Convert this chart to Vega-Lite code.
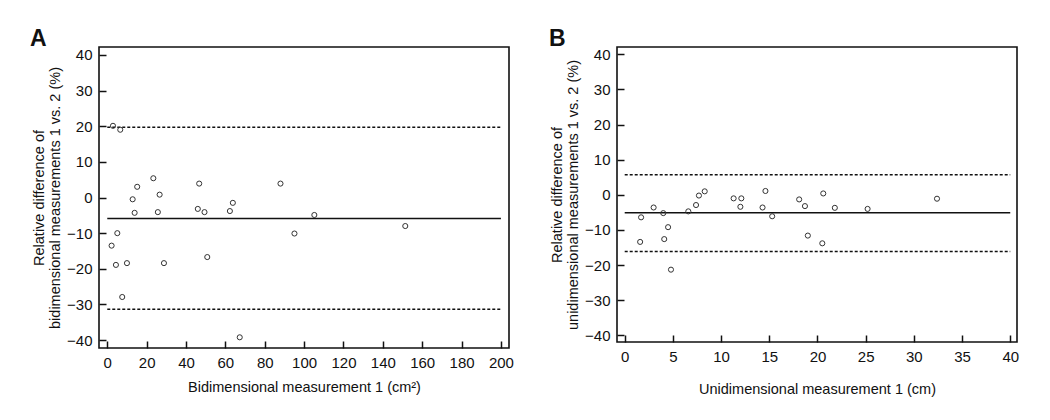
{
  "$schema": "https://vega.github.io/schema/vega-lite/v6.json",
  "background": "white",
  "padding": {"left": 29, "top": 27, "right": 5, "bottom": 5},
  "spacing": 33,
  "datasets": {
    "pa": [
      {"x": 2.9, "y": 20.1}, {"x": 6.6, "y": 19.0}, {"x": 2.2, "y": -13.5}, {"x": 5.1, "y": -10.0},
      {"x": 4.4, "y": -18.9}, {"x": 10.0, "y": -18.4}, {"x": 7.6, "y": -27.9}, {"x": 12.9, "y": -0.5},
      {"x": 13.9, "y": -4.3}, {"x": 15.2, "y": 3.0}, {"x": 23.4, "y": 5.4}, {"x": 26.6, "y": 0.8},
      {"x": 25.7, "y": -4.1}, {"x": 28.8, "y": -18.4}, {"x": 46.7, "y": 3.9}, {"x": 46.0, "y": -3.2},
      {"x": 49.4, "y": -4.1}, {"x": 50.8, "y": -16.7}, {"x": 62.3, "y": -3.8}, {"x": 63.8, "y": -1.5},
      {"x": 67.3, "y": -39.2}, {"x": 88.0, "y": 3.9}, {"x": 95.1, "y": -10.1}, {"x": 105.2, "y": -4.9},
      {"x": 151.4, "y": -8.0}
    ],
    "la": [
      {"x": 0, "x2": 200, "y": 19.7, "kind": "limit"},
      {"x": 0, "x2": 200, "y": -5.9, "kind": "mean"},
      {"x": 0, "x2": 200, "y": -31.3, "kind": "limit"}
    ],
    "pb": [
      {"x": 1.6, "y": -13.4}, {"x": 1.7, "y": -6.4}, {"x": 3.0, "y": -3.6}, {"x": 4.0, "y": -5.2},
      {"x": 4.1, "y": -12.6}, {"x": 4.5, "y": -9.2}, {"x": 4.8, "y": -21.3}, {"x": 6.6, "y": -4.7},
      {"x": 7.4, "y": -2.9}, {"x": 7.7, "y": -0.2}, {"x": 8.3, "y": 1.0}, {"x": 11.3, "y": -1.0},
      {"x": 12.0, "y": -3.4}, {"x": 12.1, "y": -1.0}, {"x": 14.3, "y": -3.6}, {"x": 14.6, "y": 1.1},
      {"x": 15.3, "y": -6.1}, {"x": 18.1, "y": -1.3}, {"x": 18.7, "y": -3.2}, {"x": 19.0, "y": -11.6},
      {"x": 20.5, "y": -13.8}, {"x": 20.6, "y": 0.4}, {"x": 21.8, "y": -3.7}, {"x": 25.2, "y": -4.0},
      {"x": 32.4, "y": -1.1}
    ],
    "lb": [
      {"x": 0, "x2": 40, "y": 5.7, "kind": "limit"},
      {"x": 0, "x2": 40, "y": -5.1, "kind": "mean"},
      {"x": 0, "x2": 40, "y": -16.1, "kind": "limit"}
    ]
  },
  "config": {
    "font": "Liberation Sans",
    "view": {"stroke": "#111", "strokeWidth": 1.6},
    "axis": {
      "grid": false,
      "domain": false,
      "ticks": true,
      "tickSize": -7,
      "tickWidth": 1.5,
      "tickColor": "#111",
      "labelPadding": 14,
      "labelFontSize": 15,
      "labelColor": "#111",
      "labelOverlap": false,
      "labelFlush": false,
      "titleFontSize": 14.5,
      "titleFontWeight": "normal",
      "titleColor": "#111",
      "zindex": 1
    },
    "title": {"fontSize": 23, "fontWeight": "bold", "anchor": "start", "frame": "group", "color": "#111"}
  },
  "hconcat": [
    {
      "width": 410,
      "height": 301,
      "title": {"text": "A", "dx": -69, "offset": -4},
      "encoding": {
        "x": {"field": "x", "type": "quantitative",
          "scale": {"domain": [-4.2, 204.1], "nice": false, "zero": false},
          "axis": {"values": [0,20,40,60,80,100,120,140,160,180,200], "title": "Bidimensional measurement 1 (cm²)", "titlePadding": 10,
            "encode": {"ticks": {"update": {"stroke": {"value": "#111"}, "strokeWidth": {"value": 1.5}, "strokeOpacity": {"value": 1}}}}}},
        "y": {"field": "y", "type": "quantitative",
          "scale": {"domain": [-42.2, 42.2], "nice": false, "zero": false},
          "axis": {"values": [-40,-30,-20,-10,0,10,20,30,40], "title": ["Relative difference of", "bidimensional measurements 1 vs. 2 (%)"], "titlePadding": 4,
            "encode": {"ticks": {"update": {"stroke": {"value": "#111"}, "strokeWidth": {"value": 1.5}, "strokeOpacity": {"value": 1}}}}}}
      },
      "layer": [
        {
          "data": {"name": "la"},
          "mark": {"type": "rule", "strokeWidth": 1.5, "color": "#111"},
          "encoding": {
            "x2": {"field": "x2"},
            "strokeDash": {"field": "kind", "type": "nominal",
              "scale": {"domain": ["mean", "limit"], "range": [[1, 0], [3, 2]]}, "legend": null}
          }
        },
        {
          "data": {"name": "pa"},
          "mark": {"type": "point", "shape": "circle", "filled": false, "size": 26, "strokeWidth": 1, "color": "#333", "opacity": 1}
        }
      ]
    },
    {
      "width": 400,
      "height": 295,
      "title": {"text": "B", "dx": -68, "offset": -4},
      "encoding": {
        "x": {"field": "x", "type": "quantitative",
          "scale": {"domain": [-0.8, 40.7], "nice": false, "zero": false},
          "axis": {"values": [0,5,10,15,20,25,30,35,40], "title": "Unidimensional measurement 1 (cm)", "titlePadding": 18,
            "encode": {"ticks": {"update": {"stroke": {"value": "#111"}, "strokeWidth": {"value": 1.5}, "strokeOpacity": {"value": 1}}}}}},
        "y": {"field": "y", "type": "quantitative",
          "scale": {"domain": [-41.9, 42.1], "nice": false, "zero": false},
          "axis": {"values": [-40,-30,-20,-10,0,10,20,30,40], "title": ["Relative difference of", "unidimensional measurements 1 vs. 2 (%)"], "titlePadding": 4,
            "encode": {"ticks": {"update": {"stroke": {"value": "#111"}, "strokeWidth": {"value": 1.5}, "strokeOpacity": {"value": 1}}}}}}
      },
      "layer": [
        {
          "data": {"name": "lb"},
          "mark": {"type": "rule", "strokeWidth": 1.5, "color": "#111"},
          "encoding": {
            "x2": {"field": "x2"},
            "strokeDash": {"field": "kind", "type": "nominal",
              "scale": {"domain": ["mean", "limit"], "range": [[1, 0], [3, 2]]}, "legend": null}
          }
        },
        {
          "data": {"name": "pb"},
          "mark": {"type": "point", "shape": "circle", "filled": false, "size": 26, "strokeWidth": 1, "color": "#333", "opacity": 1}
        }
      ]
    }
  ],
  "resolve": {"scale": {"x": "independent", "y": "independent", "strokeDash": "independent"}}
}
